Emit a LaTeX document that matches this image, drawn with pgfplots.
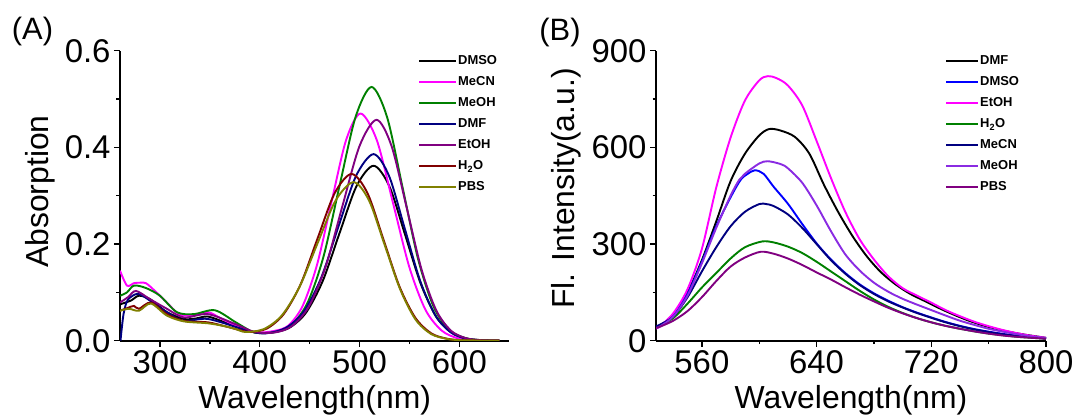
\documentclass[border=0pt]{standalone}
\usepackage{fontspec}
\setmainfont{Liberation Sans}
\usepackage{pgfplots}
\pgfplotsset{compat=1.18}

\definecolor{cMag}{HTML}{FF00FF}
\definecolor{cGreen}{HTML}{008000}
\definecolor{cNavy}{HTML}{000080}
\definecolor{cPurple}{HTML}{800080}
\definecolor{cRed}{HTML}{800000}
\definecolor{cOlive}{HTML}{808000}
\definecolor{cBlue}{HTML}{0000FF}
\definecolor{cViolet}{HTML}{8A2BE2}

\pgfplotsset{
  panel/.style={
    scale only axis, anchor=south west, height=290bp,
    axis x line*=bottom, axis y line*=left,
    axis line style={-, line width=1.6bp},
    tick align=outside,
    major tick length=6bp, minor tick length=3.5bp,
    tick style={black, line width=1.4bp},
    ticklabel style={font=\fontsize{33}{33}\selectfont},
    /pgf/number format/assume math mode=true,
    every axis plot/.append style={line width=1.9bp, smooth, no markers},
    every axis x label/.style={at={(axis description cs:0.5,-0.207)}, anchor=center,
      font=\fontsize{32}{32}\selectfont},
    legend style={draw=none, fill=none, font=\fontsize{13}{13}\selectfont\bfseries,
      anchor=north west, inner sep=0pt, row sep=6bp,
      nodes={inner sep=1bp, text height=10bp, text depth=3bp}},
    legend cell align=left,
  }
}

\begin{document}
\begin{tikzpicture}
\useasboundingbox (0,0) rectangle (1075bp,417bp);

% (A) absorption
\begin{axis}[panel, at={(120bp,76.3bp)}, width=389.3bp,
  xmin=260, xmax=650, ymin=0, ymax=0.6,
  xtick={300,400,500,600}, ytick={0,0.2,0.4,0.6},
  minor x tick num=1, minor y tick num=1,
  y tick label style={/pgf/number format/.cd, fixed, fixed zerofill, precision=1, /tikz/.cd},
  xlabel={Wavelength(nm)}, ylabel={Absorption},
  every axis y label/.style={at={(axis description cs:-0.2055,0.514)}, anchor=center,
    rotate=90, font=\fontsize{32}{32}\selectfont},
  legend image code/.code={\draw[#1, line width=2bp] (0bp,0bp) -- (37bp,0bp);},
  legend style={at={(axis description cs:0.7655,0.99)}},
  legend entries={DMSO,MeCN,MeOH,DMF,EtOH,H\textsubscript{2}O,PBS},
]
\addplot[black] coordinates {(260,0.075)(264,0.078)(271,0.083)(279,0.093)(290,0.086)(307,0.059)(324,0.045)(336,0.046)(348,0.050)(365,0.038)(383,0.024)(398,0.016)(412,0.017)(429,0.026)(446,0.057)(463,0.123)(480,0.223)(497,0.320)(514,0.362)(529.75,0.320)(545.5,0.220)(561.25,0.118)(577,0.049)(592.75,0.016)(608.5,0.004)(624.25,0.001)(640,0.0)};
\addplot[cMag] coordinates {(260,0.145)(267,0.114)(274,0.119)(280,0.120)(286,0.119)(295,0.103)(307,0.079)(319,0.055)(331,0.052)(348,0.059)(362,0.045)(383,0.024)(397,0.017)(414,0.020)(428.5,0.031)(443,0.072)(457.5,0.158)(472,0.288)(486.5,0.415)(501,0.470)(517.25,0.415)(533.5,0.285)(549.75,0.153)(566,0.064)(582.25,0.021)(598.5,0.005)(614.75,0.001)(640,0.0)};
\addplot[cGreen] coordinates {(260,0.093)(267,0.100)(274,0.114)(286,0.109)(300,0.093)(317,0.059)(334,0.055)(355,0.063)(376,0.038)(392,0.019)(400,0.016)(416,0.018)(432,0.033)(448,0.079)(464,0.175)(480,0.321)(496,0.463)(512,0.525)(527.5,0.463)(543,0.318)(558.5,0.170)(574,0.071)(589.5,0.023)(605,0.006)(620.5,0.001)(640,0.0)};
\addplot[cNavy] coordinates {(260.5,0.0)(262,0.03)(264,0.06)(268,0.085)(278,0.097)(290,0.083)(307,0.059)(324,0.041)(348,0.045)(383,0.024)(398,0.016)(409,0.016)(426.5,0.027)(444,0.060)(461.5,0.130)(479,0.237)(496.5,0.341)(514,0.386)(529.5,0.341)(545,0.234)(560.5,0.125)(576,0.052)(591.5,0.017)(607,0.004)(622.5,0.001)(640,0.0)};
\addplot[cPurple] coordinates {(260,0.079)(268,0.090)(276,0.103)(290,0.086)(307,0.066)(324,0.048)(348,0.055)(376,0.034)(395,0.018)(415,0.017)(432,0.030)(449,0.070)(466,0.153)(483,0.280)(500,0.403)(517,0.457)(532,0.403)(547,0.277)(562,0.148)(577,0.062)(592,0.020)(607,0.005)(622,0.001)(640,0.0)};
\addplot[cRed] coordinates {(260,0.062)(268,0.068)(274,0.072)(279,0.066)(291,0.079)(307,0.055)(324,0.041)(348,0.038)(365,0.030)(380,0.022)(390,0.018)(407,0.025)(424,0.055)(441,0.117)(458,0.212)(475,0.305)(492,0.345)(508,0.305)(524,0.209)(540,0.112)(556,0.047)(572,0.015)(588,0.004)(604,0.001)(640,0.0)};
\addplot[cOlive] coordinates {(260,0.062)(269,0.066)(279,0.062)(291,0.077)(307,0.052)(324,0.040)(348,0.036)(365,0.030)(376,0.024)(386,0.018)(404,0.024)(422,0.052)(440,0.112)(458,0.202)(476,0.290)(494,0.328)(509.5,0.290)(525,0.199)(540.5,0.107)(556,0.044)(571.5,0.014)(587,0.004)(602.5,0.001)(640,0.0)};
\end{axis}

% (B) fluorescence
\begin{axis}[panel, at={(656bp,76.3bp)}, width=390bp,
  xmin=528, xmax=800, ymin=0, ymax=900,
  xtick={560,640,720,800}, ytick={0,300,600,900},
  minor x tick num=1, minor y tick num=1,
  xlabel={Wavelength(nm)}, ylabel={Fl. Intensity(a.u.)},
  every axis y label/.style={at={(axis description cs:-0.2308,0.525)}, anchor=center,
    rotate=90, font=\fontsize{32}{32}\selectfont},
  legend image code/.code={\draw[#1, line width=2bp] (0bp,0bp) -- (32bp,0bp);},
  legend style={at={(axis description cs:0.741,0.99)}},
  legend entries={DMF,DMSO,EtOH,H\textsubscript{2}O,MeCN,MeOH,PBS},
]
\addplot[black] coordinates {(528,42)(530,45)(540,80)(550,150)(560,250)(570,370)(580,495)(590,580)(600,637)(607,657)(615,652)(625,632)(635,580)(645,485)(655,400)(665,325)(675,262)(685,212)(695,175)(705,146)(715,124)(725,102)(735,82)(745,64)(755,49)(765,37)(775,27)(785,19)(800,9)};
\addplot[cBlue] coordinates {(528,44)(530,45)(540,78)(550,145)(560,245)(570,355)(580,445)(587,499)(592,518)(597,529)(603,518)(610,478)(620,425)(630,362)(640,302)(650,252)(660,210)(670,175)(680,147)(690,124)(700,104)(710,87)(720,72)(730,58)(740,46)(750,36)(760,28)(770,21)(780,15)(790,11)(800,7)};
\addplot[cMag] coordinates {(528,40)(530,42)(540,85)(550,160)(560,285)(570,475)(580,630)(590,745)(600,808)(606,821)(612,815)(620,792)(630,730)(640,620)(650,505)(660,400)(670,315)(680,252)(690,200)(700,163)(710,140)(720,118)(730,95)(740,76)(750,59)(760,45)(770,33)(780,23)(790,15)(800,9)};
\addplot[cGreen] coordinates {(528,44)(530,45)(540,70)(550,115)(560,165)(570,210)(580,255)(590,290)(602,308)(610,305)(620,292)(630,272)(640,245)(650,215)(660,185)(670,155)(680,128)(690,105)(700,86)(710,70)(720,57)(730,46)(740,37)(750,29)(760,22)(770,17)(780,12)(790,9)(800,6)};
\addplot[cNavy] coordinates {(528,46)(530,48)(540,75)(550,135)(560,215)(570,290)(580,355)(590,400)(600,424)(605,424)(610,418)(620,392)(630,350)(640,300)(650,250)(660,208)(670,173)(680,145)(690,122)(700,103)(710,86)(720,71)(730,57)(740,45)(750,35)(760,27)(770,20)(780,15)(790,11)(800,7)};
\addplot[cViolet] coordinates {(528,40)(530,42)(540,75)(550,140)(560,240)(570,350)(580,450)(586,499)(590,518)(600,550)(606,557)(615,548)(620,535)(630,490)(640,420)(650,340)(660,268)(670,218)(680,180)(690,152)(700,130)(710,112)(720,95)(730,78)(740,62)(750,49)(760,37)(770,28)(780,20)(790,13)(800,8)};
\addplot[cPurple] coordinates {(528,40)(530,42)(540,62)(550,92)(560,135)(570,185)(580,230)(590,258)(601,276)(610,270)(620,255)(630,235)(640,212)(650,190)(660,166)(670,143)(680,122)(690,102)(700,85)(710,70)(720,57)(730,46)(740,37)(750,29)(760,22)(770,16)(780,12)(790,9)(800,6)};
\end{axis}

\node[font=\fontsize{31}{31}\selectfont] at (32.5bp,385.5bp) {(A)};
\node[font=\fontsize{31}{31}\selectfont] at (560bp,384.5bp) {(B)};
\end{tikzpicture}
\end{document}
